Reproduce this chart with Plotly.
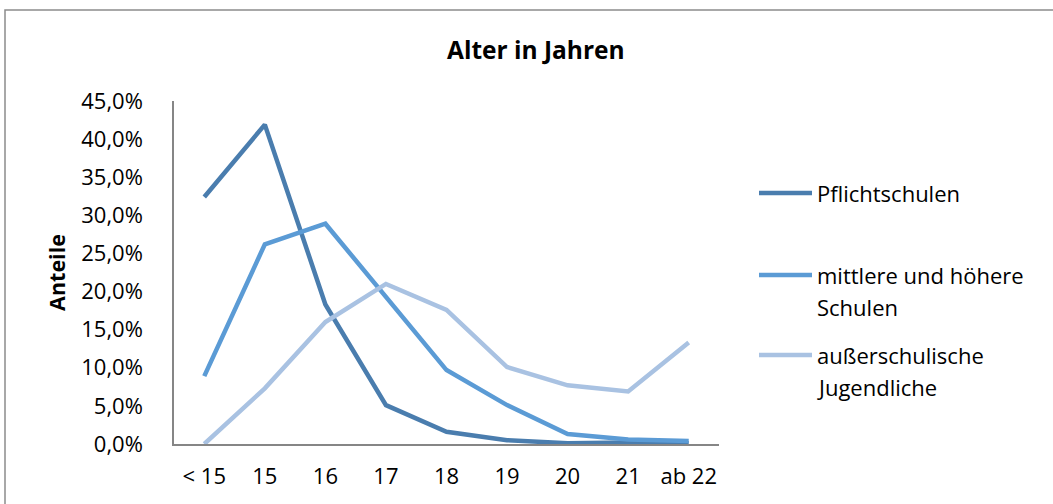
import plotly.graph_objects as go

# Altersgruppen und Anteile (in %) je Gruppe
categories = ["< 15", "15", "16", "17", "18", "19", "20", "21", "ab 22"]
pflichtschulen = [32.4, 41.9, 18.3, 5.1, 1.6, 0.5, 0.1, 0.2, 0.1]
mittlere_hoehere = [8.9, 26.2, 28.9, 19.4, 9.7, 5.1, 1.3, 0.6, 0.4]
ausserschulisch = [0.0, 7.3, 16.0, 21.0, 17.6, 10.1, 7.7, 6.9, 13.3]

series_names = ["Pflichtschulen", "mittlere und höhere Schulen", "außerschulische Jugendliche"]
legend_lines = [["Pflichtschulen"], ["mittlere und höhere", "Schulen"], ["außerschulische", "Jugendliche"]]
series_values = [pflichtschulen, mittlere_hoehere, ausserschulisch]
colors = ["#4A7DAE", "#5B9BD5", "#A9C2E2"]

y_ticks = [0, 5, 10, 15, 20, 25, 30, 35, 40, 45]
y_tick_text = [f"{v:.1f}%".replace(".", ",") for v in y_ticks]

FONT = "Open Sans, Calibri, sans-serif"
FS = 22
W, H = 1053, 504
L, R, T, B = 174, 334, 101, 60
PW, PH = W - L - R, H - T - B


def px(x):
    return (x - L) / PW


def py(y):
    return (H - B - y) / PH


fig = go.Figure()
for name, vals, col in zip(series_names, series_values, colors):
    fig.add_trace(go.Scatter(
        x=categories, y=vals, name=name, mode="lines",
        line=dict(color=col, width=4.5), showlegend=False,
    ))

shapes = [
    # Rahmen des Diagramms
    dict(type="rect", xref="paper", yref="paper",
         x0=px(5), x1=px(W + 20), y0=py(H + 20), y1=py(10),
         line=dict(color="#8C8C8C", width=1.5), fillcolor="rgba(0,0,0,0)", layer="below"),
]
annotations = [
    dict(text="<b>Alter in Jahren</b>", xref="paper", yref="paper",
         x=px(536), y=py(49), showarrow=False, xanchor="center", yanchor="middle",
         font=dict(family=FONT, size=24.5, color="#000")),
]

# Legende
legend_y = [193, 275, 355]
for lines, col, ly in zip(legend_lines, colors, legend_y):
    shapes.append(dict(type="line", xref="paper", yref="paper",
                       x0=px(759), x1=px(812), y0=py(ly), y1=py(ly),
                       line=dict(color=col, width=4.5)))
    for i, txt in enumerate(lines):
        annotations.append(dict(text=txt, xref="paper", yref="paper",
                                x=px(815), y=py(ly + 32 * i), showarrow=False,
                                xanchor="left", yanchor="middle",
                                font=dict(family=FONT, size=FS, color="#000")))

fig.update_layout(
    width=W, height=H,
    margin=dict(l=L, r=R, t=T, b=B),
    paper_bgcolor="white", plot_bgcolor="white",
    font=dict(family=FONT, size=FS, color="#000"),
    shapes=shapes, annotations=annotations,
    xaxis=dict(
        type="category", range=[-0.5, len(categories) - 0.5],
        showline=True, linecolor="#868686", linewidth=1.5,
        showgrid=False, zeroline=False, ticks="", ticklabelstandoff=12,
        tickfont=dict(family=FONT, size=FS),
    ),
    yaxis=dict(
        range=[0, 45], tickvals=y_ticks, ticktext=y_tick_text,
        showline=True, linecolor="#868686", linewidth=1.5,
        showgrid=False, zeroline=False, ticks="", ticklabelstandoff=25,
        tickfont=dict(family=FONT, size=FS),
        title=dict(text="<b>Anteile</b>", font=dict(family=FONT, size=21.5), standoff=10),
    ),
)

fig.write_html("out.html")
